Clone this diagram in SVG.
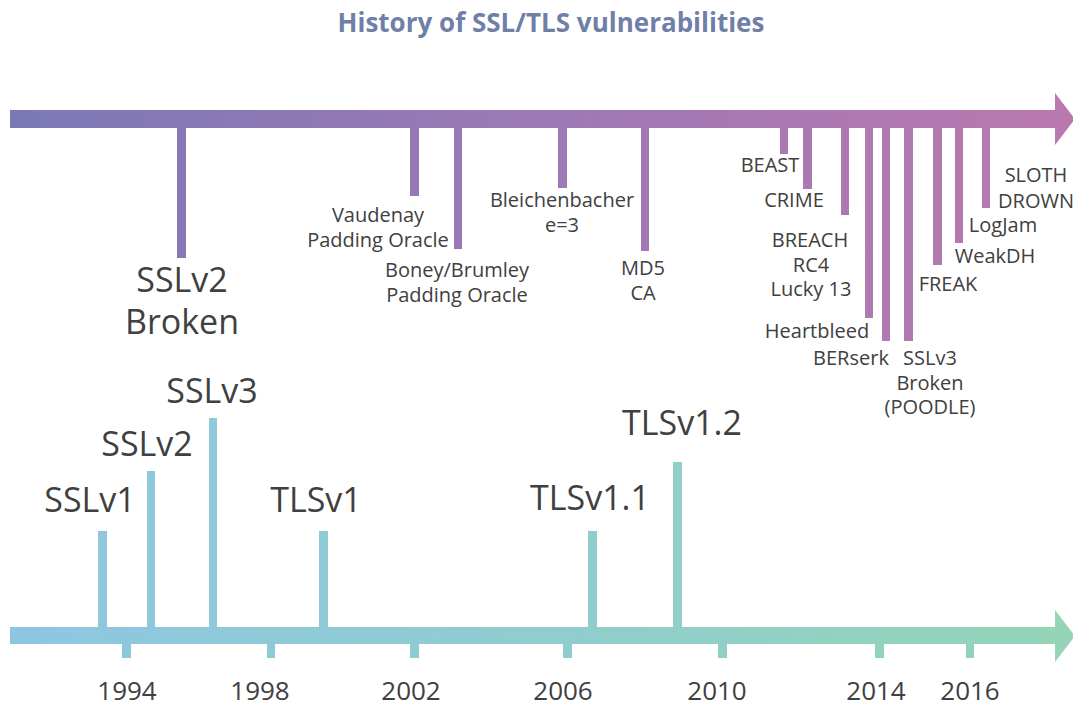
<svg xmlns="http://www.w3.org/2000/svg" width="1073" height="704" viewBox="0 0 1073 704">
<defs>
<linearGradient id="gTop" gradientUnits="userSpaceOnUse" x1="10" y1="0" x2="1073" y2="0">
<stop offset="0" stop-color="#7b78b6"/>
<stop offset="0.5" stop-color="#9d79b5"/>
<stop offset="1" stop-color="#ba78ae"/>
</linearGradient>
<linearGradient id="gBot" gradientUnits="userSpaceOnUse" x1="10" y1="0" x2="1073" y2="0">
<stop offset="0" stop-color="#8ec6e1"/>
<stop offset="0.5" stop-color="#8fcdcf"/>
<stop offset="1" stop-color="#95d4b6"/>
</linearGradient>
<style>
.t{fill:url(#gTop)}
.b{fill:url(#gBot)}
text{font-family:"Open Sans","Liberation Sans",sans-serif;fill:#404040;text-anchor:middle}
.s{font-size:20px}
.L{font-size:34px}
.y{font-size:26px}
.title{font-size:26px;font-weight:bold;fill:#6f7fa8}
</style>
</defs>
<rect width="1073" height="704" fill="#ffffff"/>
<text class="title" x="551" y="32">History of SSL/TLS vulnerabilities</text>

<g id="connectors">
<g id="vuln-timeline">
<rect class="t" x="10" y="110" width="1046" height="18"/>
<polygon class="t" points="1055,93 1075,119 1055,145"/>
</g>
<g id="release-timeline">
<rect class="b" x="10" y="627" width="1046" height="17"/>
<polygon class="b" points="1055,610 1075,636 1055,662"/>
</g>
</g>

<g id="v-sslv2-broken"><rect class="t" x="177" y="127" width="9" height="131"/><text class="L" x="182" y="292">SSLv2</text><text class="L" x="182" y="334">Broken</text></g>
<g id="v-vaudenay"><rect class="t" x="410" y="127" width="9" height="69"/><text class="s" x="378" y="222">Vaudenay</text><text class="s" x="378" y="247">Padding Oracle</text></g>
<g id="v-boney"><rect class="t" x="454" y="127" width="8" height="122"/><text class="s" x="457" y="277">Boney/Brumley</text><text class="s" x="457" y="302">Padding Oracle</text></g>
<g id="v-bleichenbacher"><rect class="t" x="558" y="127" width="9" height="61"/><text class="s" x="562" y="207">Bleichenbacher</text><text class="s" x="562" y="232">e=3</text></g>
<g id="v-md5"><rect class="t" x="641" y="127" width="8" height="124"/><text class="s" x="643" y="275">MD5</text><text class="s" x="643" y="300">CA</text></g>
<g id="v-beast"><rect class="t" x="780" y="127" width="8" height="27"/><text class="s" x="770" y="172">BEAST</text></g>
<g id="v-crime"><rect class="t" x="803" y="127" width="9" height="62"/><text class="s" x="794" y="207">CRIME</text></g>
<g id="v-breach"><rect class="t" x="841" y="127" width="8" height="88"/><text class="s" x="810" y="247">BREACH</text><text class="s" x="811" y="272">RC4</text><text class="s" x="811" y="296">Lucky 13</text></g>
<g id="v-heartbleed"><rect class="t" x="865" y="127" width="8" height="191"/><text class="s" x="817" y="338">Heartbleed</text></g>
<g id="v-berserk"><rect class="t" x="882" y="127" width="8" height="214"/><text class="s" x="851" y="365">BERserk</text></g>
<g id="v-poodle"><rect class="t" x="904" y="127" width="9" height="214"/><text class="s" x="930" y="365">SSLv3</text><text class="s" x="930" y="390">Broken</text><text class="s" x="930" y="414">(POODLE)</text></g>
<g id="v-freak"><rect class="t" x="933" y="127" width="9" height="138"/><text class="s" x="948" y="291">FREAK</text></g>
<g id="v-weakdh"><rect class="t" x="955" y="127" width="8" height="116"/><text class="s" x="995" y="263">WeakDH</text></g>
<g id="v-logjam"><rect class="t" x="982" y="127" width="8" height="81"/><text class="s" x="1003" y="232">LogJam</text></g>
<g id="v-sloth-drown"><text class="s" x="1036" y="182">SLOTH</text><text class="s" x="1036" y="208">DROWN</text></g>

<g id="r-sslv1"><rect class="b" x="98" y="531" width="9" height="97"/><text class="L" x="90" y="512">SSLv1</text></g>
<g id="r-sslv2"><rect class="b" x="147" y="471" width="8" height="157"/><text class="L" x="147" y="456">SSLv2</text></g>
<g id="r-sslv3"><rect class="b" x="209" y="418" width="8" height="210"/><text class="L" x="212" y="403">SSLv3</text></g>
<g id="r-tlsv1"><rect class="b" x="319" y="531" width="9" height="97"/><text class="L" x="316" y="512">TLSv1</text></g>
<g id="r-tlsv11"><rect class="b" x="588" y="531" width="9" height="97"/><text class="L" x="590" y="510">TLSv1.1</text></g>
<g id="r-tlsv12"><rect class="b" x="673" y="462" width="9" height="166"/><text class="L" x="682" y="435">TLSv1.2</text></g>

<g id="y-1994"><rect class="b" x="122" y="643" width="9" height="15"/><text class="y" x="127" y="700">1994</text></g>
<g id="y-1998"><rect class="b" x="267" y="643" width="8" height="15"/><text class="y" x="260" y="700">1998</text></g>
<g id="y-2002"><rect class="b" x="410" y="643" width="9" height="15"/><text class="y" x="411" y="700">2002</text></g>
<g id="y-2006"><rect class="b" x="563" y="643" width="9" height="15"/><text class="y" x="563" y="700">2006</text></g>
<g id="y-2010"><rect class="b" x="718" y="643" width="9" height="15"/><text class="y" x="717" y="700">2010</text></g>
<g id="y-2014"><rect class="b" x="875" y="643" width="9" height="15"/><text class="y" x="876" y="700">2014</text></g>
<g id="y-2016"><rect class="b" x="966" y="643" width="8" height="15"/><text class="y" x="970" y="700">2016</text></g>
</svg>
